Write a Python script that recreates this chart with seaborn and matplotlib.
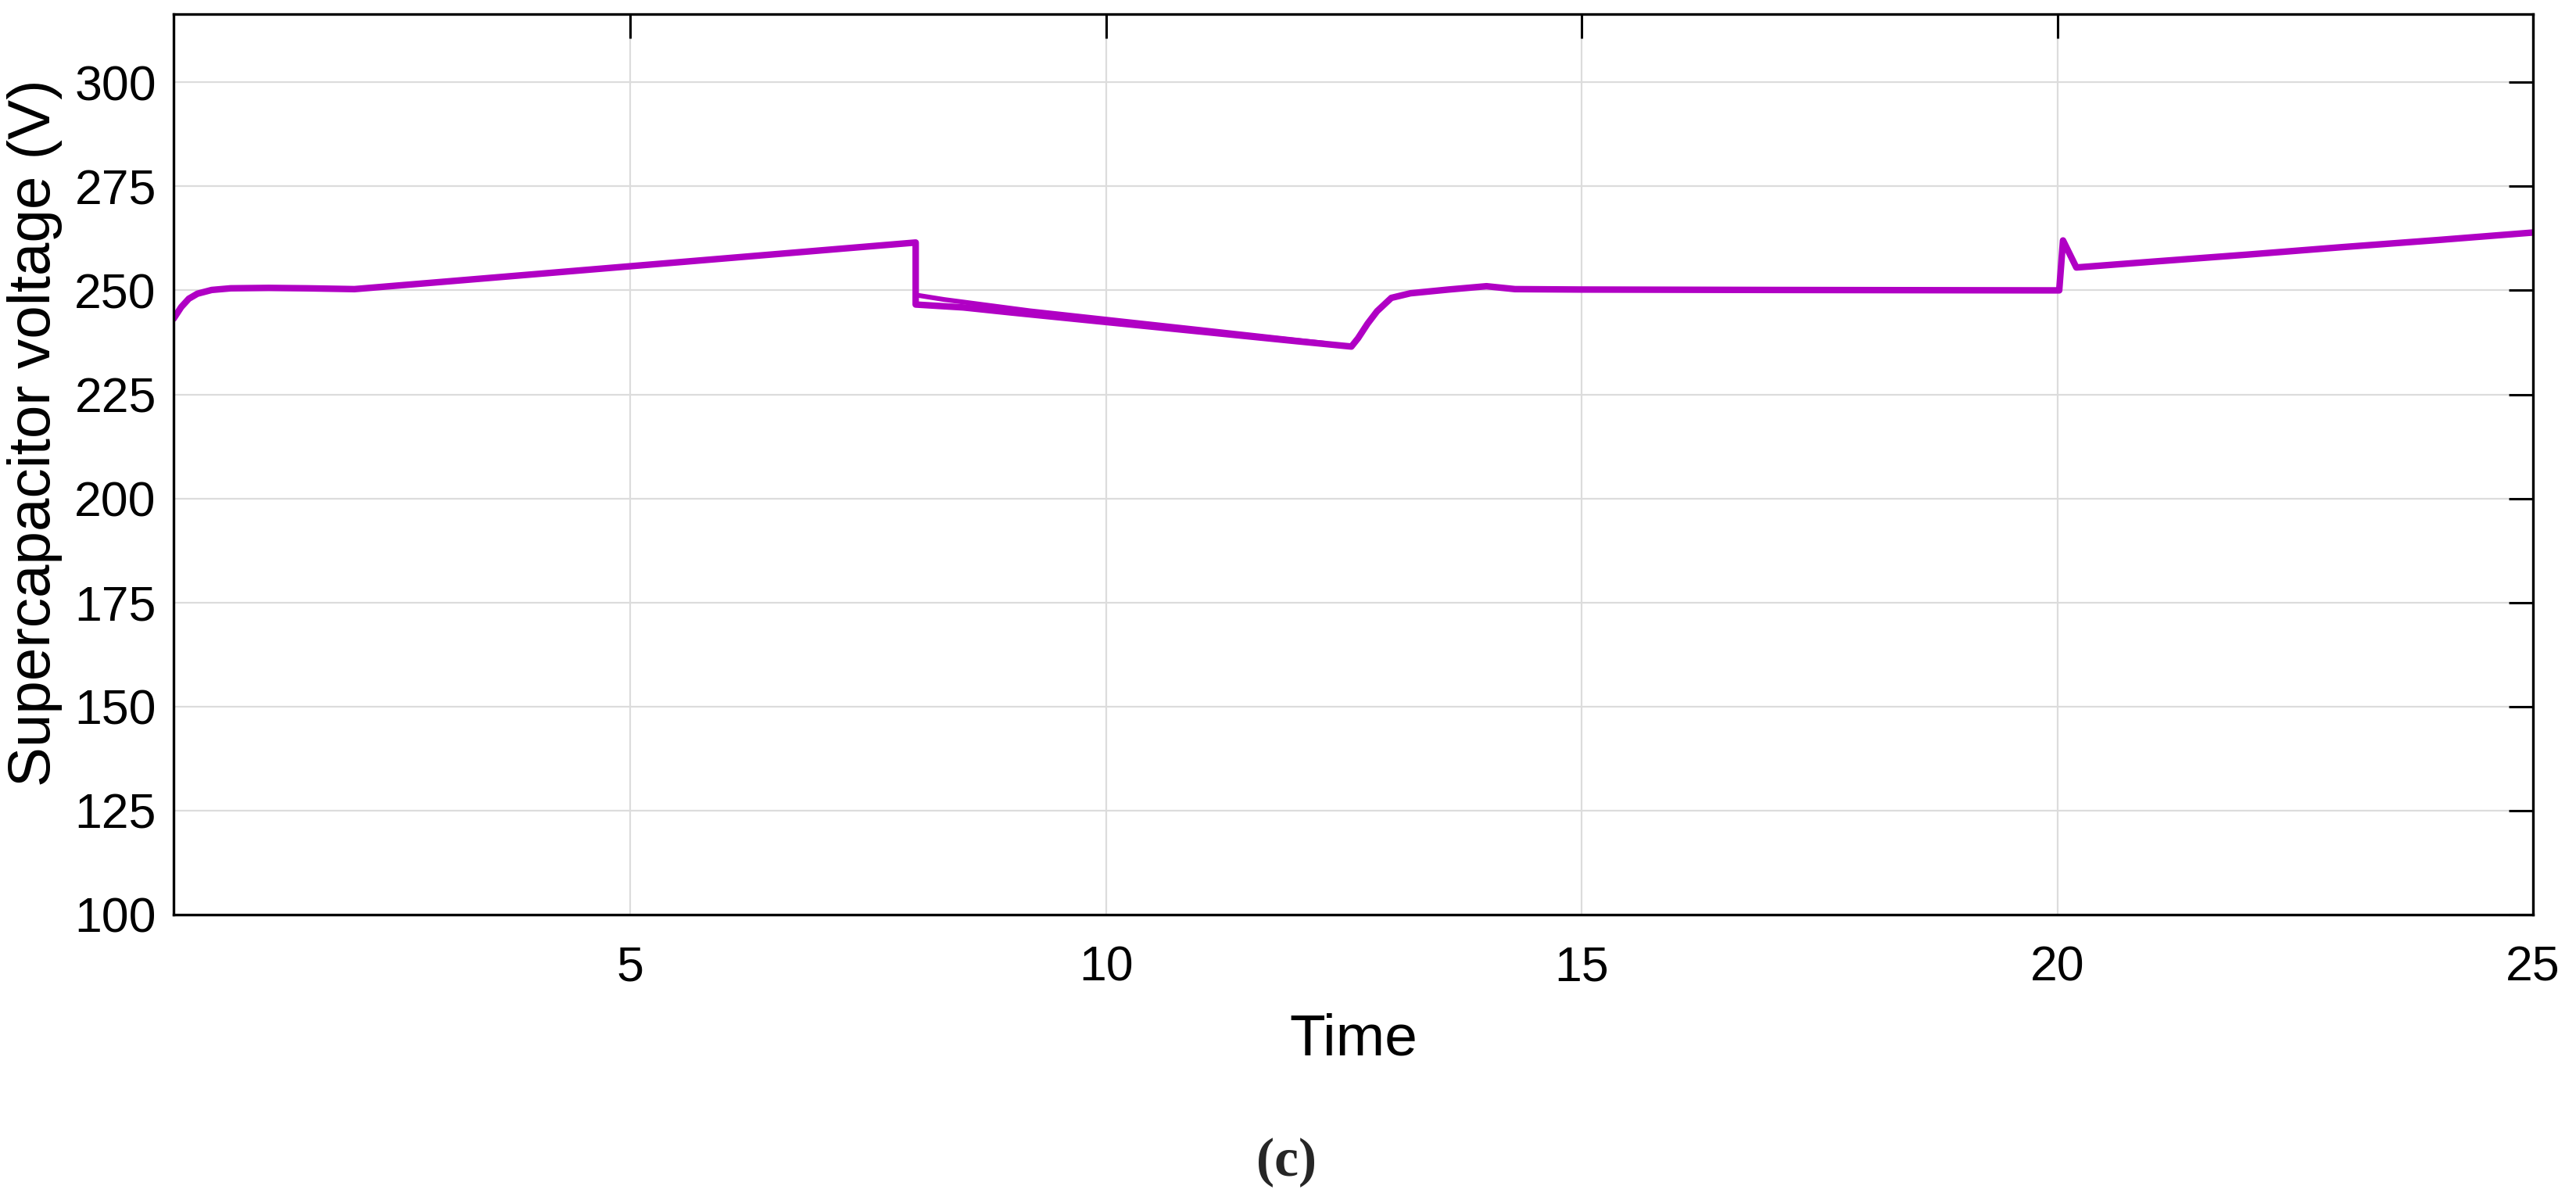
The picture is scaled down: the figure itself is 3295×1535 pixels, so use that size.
"""
Supercapacitor voltage vs time, panel (c)
"""
import numpy as np
import pandas as pd
import matplotlib
matplotlib.use("Agg")
import matplotlib.pyplot as plt
import seaborn as sns

# ── data ────────────────────────────────────────────────────────────────────
time = [0.2, 0.28, 0.36, 0.45, 0.6, 0.8, 1.2, 1.6, 2.1, 3.0, 4.0, 5.0, 6.0,
        7.0, 8.0, 8.0, 8.5, 9.0, 10.0, 11.0, 12.0, 12.58, 12.65, 12.75, 12.85,
        13.0, 13.2, 13.6, 14.0, 14.3, 15.0, 17.0, 19.9, 20.02, 20.06, 20.2,
        21.0, 22.0, 23.0, 24.0, 25.0]
voltage = [243.2, 246.0, 248.0, 249.2, 250.1, 250.5, 250.6, 250.5, 250.3,
           252.0, 253.9, 255.8, 257.7, 259.6, 261.5, 246.6, 245.9, 244.7,
           242.4, 240.1, 237.8, 236.5, 238.5, 242.0, 245.0, 248.2, 249.3,
           250.2, 251.0, 250.3, 250.2, 250.1, 250.0, 250.0, 262.0, 255.5,
           256.9, 258.6, 260.4, 262.1, 263.9]

# upper edge of the ripple band right after the step at t = 8
ripple_time = [8.0, 8.3, 8.7, 9.2, 10.0, 11.0, 12.3]
ripple_voltage = [248.9, 247.8, 246.6, 245.1, 243.1, 240.6, 237.3]

y_ticks = [100, 125, 150, 175, 200, 225, 250, 275, 300]
x_ticks = [5, 10, 15, 20, 25]

LINE_COLOR = "#B000C4"

sns.set_style("whitegrid", {"grid.color": "#dcdcdc", "axes.edgecolor": "black"})
plt.rcParams["font.family"] = ["Liberation Sans", "DejaVu Sans"]

df = pd.DataFrame({"Time": time, "Voltage": voltage})
df_rip = pd.DataFrame({"Time": ripple_time, "Voltage": ripple_voltage})

fig = plt.figure(figsize=(16.475, 7.675), dpi=200)
ax = fig.add_axes([0.0674, 0.2378, 0.9159, 0.7505])

sns.lineplot(data=df, x="Time", y="Voltage", ax=ax, color=LINE_COLOR,
             linewidth=3.0, estimator=None, sort=False)
sns.lineplot(data=df_rip, x="Time", y="Voltage", ax=ax, color=LINE_COLOR,
             linewidth=2.2, estimator=None, sort=False)

ax.set_xlim(0.2, 25)
ax.set_ylim(100, 316.4)
ax.set_xticks(x_ticks)
ax.set_yticks(y_ticks)
ax.grid(True, color="#dcdcdc", linewidth=0.8)
for s in ax.spines.values():
    s.set_linewidth(1.2)
    s.set_color("black")
ax.tick_params(direction="in", length=11, width=1.1, top=True, right=True,
               labelsize=22.5, colors="black", labelcolor="black")
ax.tick_params(axis="x", pad=14)
ax.tick_params(axis="y", pad=8)

ax.set_xlabel("Time", fontsize=27, labelpad=10, color="black")
ax.set_ylabel("Supercapacitor voltage (V)", fontsize=27.5, color="black")
ax.yaxis.set_label_coords(-0.047, 0.535)

fig.text(0.4995, 0.031, "(c)", ha="center", va="center", fontsize=25,
         fontweight="bold", family=["Liberation Serif", "DejaVu Serif"])

fig.savefig("out.png", dpi=200, facecolor="white")
plt.close(fig)
